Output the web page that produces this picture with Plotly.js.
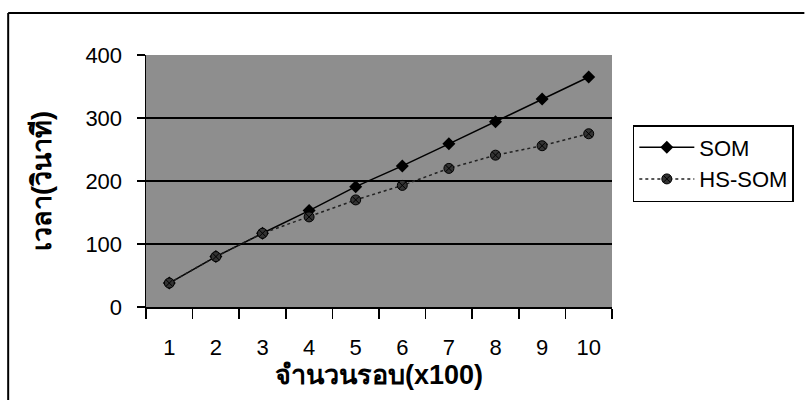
<!DOCTYPE html>
<html>
<head>
<meta charset="utf-8">
<script src="https://cdn.plot.ly/plotly-3.0.1.min.js"></script>
<style>html,body{margin:0;padding:0;background:#fff}#chart{width:806px;height:400px}</style>
</head>
<body>
<div id="chart"></div>
<script>
const categories = ['1','2','3','4','5','6','7','8','9','10'];
const somValues = [38, 80, 117, 153, 191, 224, 259, 294, 330, 365];
const hsSomValues = [38, 80, 117, 143, 170, 193, 220, 241, 256, 275];
const yTickValues = [0, 100, 200, 300, 400];
const xTitle = 'จำนวนรอบ(x100)';
const yTitle = 'เวลา(วินาที)';

const FONT = 'Liberation Sans, Arial, Noto Sans, sans-serif';

const traces = [
  {
    x: categories, y: somValues, name: 'SOM', type: 'scatter', mode: 'lines+markers',
    line: {color: '#000', width: 1.5, dash: 'solid'},
    marker: {symbol: 'diamond', size: 10, color: '#000'}
  },
  {
    x: categories, y: hsSomValues, name: 'HS-SOM', type: 'scatter', mode: 'lines+markers',
    line: {color: '#222', width: 1.5, dash: 'dot'},
    marker: {symbol: 'circle-x', size: 10, color: '#333', line: {color: '#000', width: 1}}
  }
];

const L = 146, R = 616, T = 55, B = 307;
const px = v => (v - L) / (R - L);
const py = v => (B - v) / (B - T);

const layout = {
  width: 806, height: 400,
  margin: {l: L, r: 806 - R, t: T, b: 400 - B},
  paper_bgcolor: '#fff',
  plot_bgcolor: '#8e8e8e',
  font: {family: FONT, color: '#000', size: 22},
  showlegend: true,
  legend: {
    x: px(637), y: py(125), xanchor: 'left', yanchor: 'top',
    bgcolor: '#fff', bordercolor: '#000', borderwidth: 1.5,
    font: {family: FONT, size: 22, color: '#000'},
    itemwidth: 55,
    tracegroupgap: 4
  },
  xaxis: {
    type: 'category', tickson: 'boundaries', ticks: 'outside', ticklen: 10, tickwidth: 1.5,
    tickcolor: '#000', showline: true, linecolor: '#000', linewidth: 1.5,
    showgrid: false, zeroline: false, range: [-0.5, 9.5],
    ticklabelstandoff: 20,
    tickfont: {family: FONT, size: 22, color: '#000'},
    title: {text: xTitle, font: {family: FONT, size: 27, color: '#000', weight: 'bold'}, standoff: 2}
  },
  yaxis: {
    range: [0, 400], tickvals: yTickValues, ticks: 'outside', ticklen: 8, tickwidth: 1.5,
    tickcolor: '#000', showline: true, linecolor: '#000', linewidth: 1.5,
    showgrid: false, zeroline: false,
    ticklabelstandoff: 10,
    tickfont: {family: FONT, size: 22, color: '#000'},
    title: {text: yTitle, font: {family: FONT, size: 27, color: '#000', weight: 'bold'}, standoff: 26}
  },
  shapes: [
    ...[100, 200, 300].map(v => ({type: 'line', xref: 'paper', yref: 'y', x0: 0, x1: 1, y0: v, y1: v, line: {color: '#000', width: 2}, layer: 'below'})),
    {type: 'line', xref: 'paper', yref: 'paper', x0: px(7), x1: px(810), y0: py(13), y1: py(13), line: {color: '#000', width: 2}},
    {type: 'line', xref: 'paper', yref: 'paper', x0: px(7), x1: px(7), y0: py(13), y1: py(405), line: {color: '#000', width: 2}}
  ]
};

Plotly.newPlot('chart', traces, layout, {displayModeBar: false, staticPlot: true});
</script>
</body>
</html>
